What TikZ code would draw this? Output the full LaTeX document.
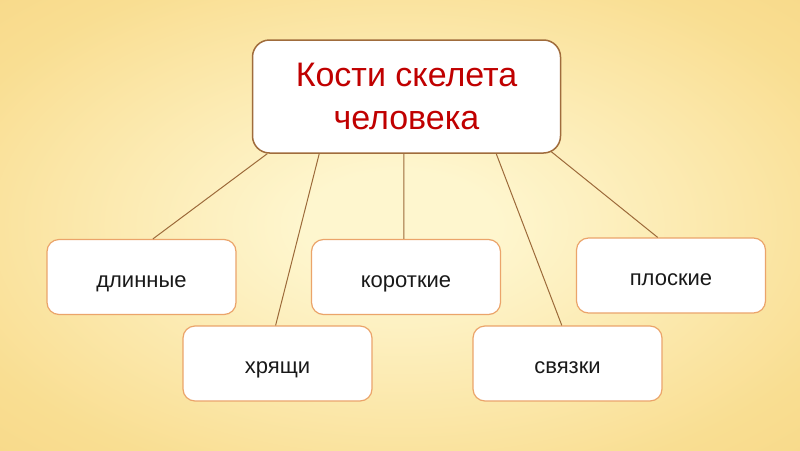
\documentclass[tikz,border=0pt]{standalone}
\usepackage{fontspec}
\setmainfont{Liberation Sans}
\usetikzlibrary{calc}

\definecolor{bgin}{HTML}{FEF6CE}
\definecolor{bgnear}{HTML}{FDF0C0}
\definecolor{bghalf}{HTML}{F9DE92}
\definecolor{bgmid}{HTML}{F6D079}
\definecolor{bgout}{HTML}{F1BC5E}
\definecolor{titlered}{HTML}{C00000}
\definecolor{topline}{HTML}{A06C3C}
\definecolor{boxline}{HTML}{EBA46A}
\definecolor{link}{HTML}{9C6A3A}

\pgfdeclareradialshading{bgglow}{\pgfpoint{0bp}{0bp}}{%
  color(0bp)=(bgin); color(6bp)=(bgin); color(12bp)=(bgnear); color(30bp)=(bghalf);
  color(50bp)=(bgmid); color(71bp)=(bgout)}

\begin{document}
\begin{tikzpicture}[
x=1pt, y=-1pt,
title/.style={rectangle, rounded corners=17pt, draw=topline, line width=1.5pt, fill=white,
  minimum width=308pt, minimum height=113pt, align=center, text=titlered,
  font=\fontsize{34}{43}\selectfont},
kind/.style={rectangle, rounded corners=12pt, draw=boxline, line width=1.2pt, fill=white,
  minimum width=189pt, minimum height=75pt, text=black!90,
  text height=20pt, text depth=0pt, font=\fontsize{22}{26}\selectfont},
link/.style={draw=link, line width=1pt},
]

% Background
\shade[shading=bgglow] (0,0) rectangle (800,450);

% Root box
\node[title] (bones) at (406.5,96.5) {Кости скелета\\человека};

% Kinds of bones
\node[kind] (long) at (141.5,277) {длинные};
\node[kind] (cart) at (277.5,363.5) {хрящи};
\node[kind] (short) at (406,277) {короткие};
\node[kind] (lig) at (567.5,363.5) {связки};
\node[kind] (flat) at (671,275.5) {плоские};

% Connectors
\draw[link] ($(bones.south west)!0.05!(bones.south east)$) -- ($(long.north west)!0.56!(long.north east)$);
\draw[link] ($(bones.south west)!0.218!(bones.south east)$) -- ($(cart.north west)!0.49!(cart.north east)$);
\draw[link] ($(bones.south west)!0.4919!(bones.south east)$) -- ($(short.north west)!0.4894!(short.north east)$);
\draw[link] ($(bones.south west)!0.79!(bones.south east)$) -- ($(lig.north west)!0.47!(lig.north east)$);
\draw[link] ($(bones.south west)!0.968!(bones.south east)+(0,-2)$) -- ($(flat.north west)!0.43!(flat.north east)$);

\end{tikzpicture}
\end{document}
